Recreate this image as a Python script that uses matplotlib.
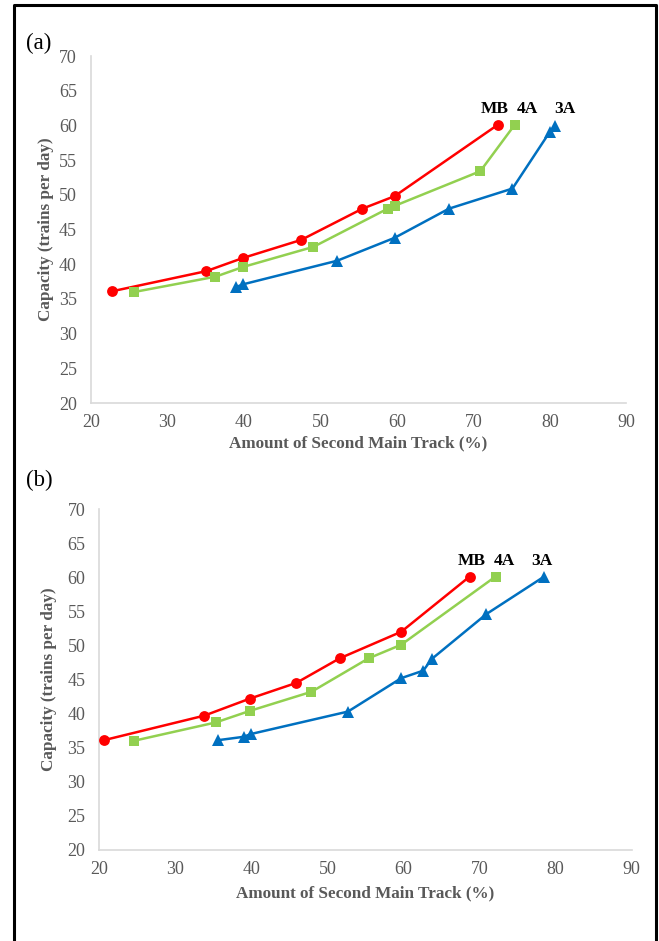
import matplotlib
matplotlib.use("Agg")
import matplotlib.pyplot as plt
from matplotlib.lines import Line2D

# ---- data: panel (a) ----
a_mb_x = [22.8, 35.1, 39.9, 47.5, 55.5, 59.7, 73.2]
a_mb_y = [36.1, 39.0, 40.9, 43.5, 48.0, 49.8, 60.1]
a_4a_x = [25.7, 36.3, 39.9, 49.1, 58.8, 59.7, 70.9, 75.4]
a_4a_y = [36.0, 38.2, 39.6, 42.5, 48.0, 48.4, 53.4, 60.1]
a_3a_x = [39.0, 39.9, 52.2, 59.7, 66.8, 75.1, 80.0, 80.6]
a_3a_y = [36.7, 37.1, 40.5, 43.8, 48.0, 50.9, 59.1, 59.9]

# ---- data: panel (b) ----
b_mb_x = [20.6, 33.8, 39.8, 45.9, 51.6, 59.7, 68.7]
b_mb_y = [36.1, 39.7, 42.2, 44.5, 48.1, 52.0, 60.1]
b_4a_x = [24.5, 35.3, 39.8, 47.9, 55.4, 59.7, 72.1]
b_4a_y = [36.0, 38.7, 40.4, 43.2, 48.1, 50.1, 60.1]
b_3a_x = [35.6, 39.0, 39.9, 52.7, 59.7, 62.6, 63.7, 70.9, 78.5]
b_3a_y = [36.1, 36.6, 37.0, 40.3, 45.2, 46.3, 48.0, 54.6, 60.1]

series_names = ["MB", "4A", "3A"]
panel_labels = ["(a)", "(b)"]
x_ticks = [20, 30, 40, 50, 60, 70, 80, 90]
y_ticks = [20, 25, 30, 35, 40, 45, 50, 55, 60, 65, 70]
xlabel = "Amount of Second Main Track (%)"
ylabel = "Capacity (trains per day)"

# name label positions (data coords) per panel
a_name_x = [72.8, 77.0, 81.9]
b_name_x = [69.0, 73.2, 78.2]
name_y = 62.4

colors = ["#FF0000", "#92D050", "#0070C0"]
markers = ["o", "s", "^"]
msizes = [7.8, 7.0, 8.5]

plt.rcParams['font.family'] = ['Liberation Serif', 'DejaVu Serif']

W, H = 659, 941
fig = plt.figure(figsize=(W / 100, H / 100), dpi=100)

def px_axes(l, r, t, b):
    return [l / W, 1 - b / H, (r - l) / W, (b - t) / H]

panels = [
    dict(rect=px_axes(90.7, 626.5, 56, 403),
         data=[(a_mb_x, a_mb_y), (a_4a_x, a_4a_y), (a_3a_x, a_3a_y)],
         names_x=a_name_x, label=panel_labels[0], label_pos=(39, 43),
         ylab=-0.0834, xlab=-0.1153),
    dict(rect=px_axes(99.3, 631.7, 509, 850),
         data=[(b_mb_x, b_mb_y), (b_4a_x, b_4a_y), (b_3a_x, b_3a_y)],
         names_x=b_name_x, label=panel_labels[1], label_pos=(39, 480),
         ylab=-0.0954, xlab=-0.126),
]

grey = "#595959"
for p in panels:
    ax = fig.add_axes(p["rect"])
    for (xs, ys), c, m, ms in zip(p["data"], colors, markers, msizes):
        ax.plot(xs, ys, color=c, marker=m, markersize=ms, linewidth=1.8,
                markeredgewidth=0, clip_on=False, zorder=3)
    for nm, nx in zip(series_names, p["names_x"]):
        ax.text(nx, name_y, nm, ha="center", va="center", fontsize=12.5,
                fontweight="bold", color="black")
    ax.set_xlim(20, 90)
    ax.set_ylim(20, 70)
    ax.set_xticks(x_ticks)
    ax.set_yticks(y_ticks)
    ax.tick_params(axis="y", length=0, labelsize=13, labelcolor=grey, pad=10)
    ax.tick_params(axis="x", length=0, labelsize=13, labelcolor=grey, pad=8)
    for s in ["top", "right"]:
        ax.spines[s].set_visible(False)
    for s in ["left", "bottom"]:
        ax.spines[s].set_color("#D9D9D9")
        ax.spines[s].set_linewidth(1.2)
    ax.set_xlabel(xlabel, fontsize=12.3, fontweight="bold", color=grey, va="center")
    ax.set_ylabel(ylabel, fontsize=12.3, fontweight="bold", color=grey, va="center")
    ax.xaxis.set_label_coords(0.5, p["xlab"])
    ax.yaxis.set_label_coords(p["ylab"], 0.5)
    lx, ly = p["label_pos"]
    fig.text(lx / W, 1 - ly / H, p["label"], ha="center", va="center",
             fontsize=16.5, color="black")

# outer frame (left, top, right)
fx0, fx1, fy0 = 14 / W, 655.5 / W, 1 - 4.5 / H
fig.add_artist(Line2D([fx0, fx0, fx1, fx1], [0, fy0, fy0, 0],
                      transform=fig.transFigure, color="black", linewidth=2.2))

fig.savefig("out.png", dpi=100)
